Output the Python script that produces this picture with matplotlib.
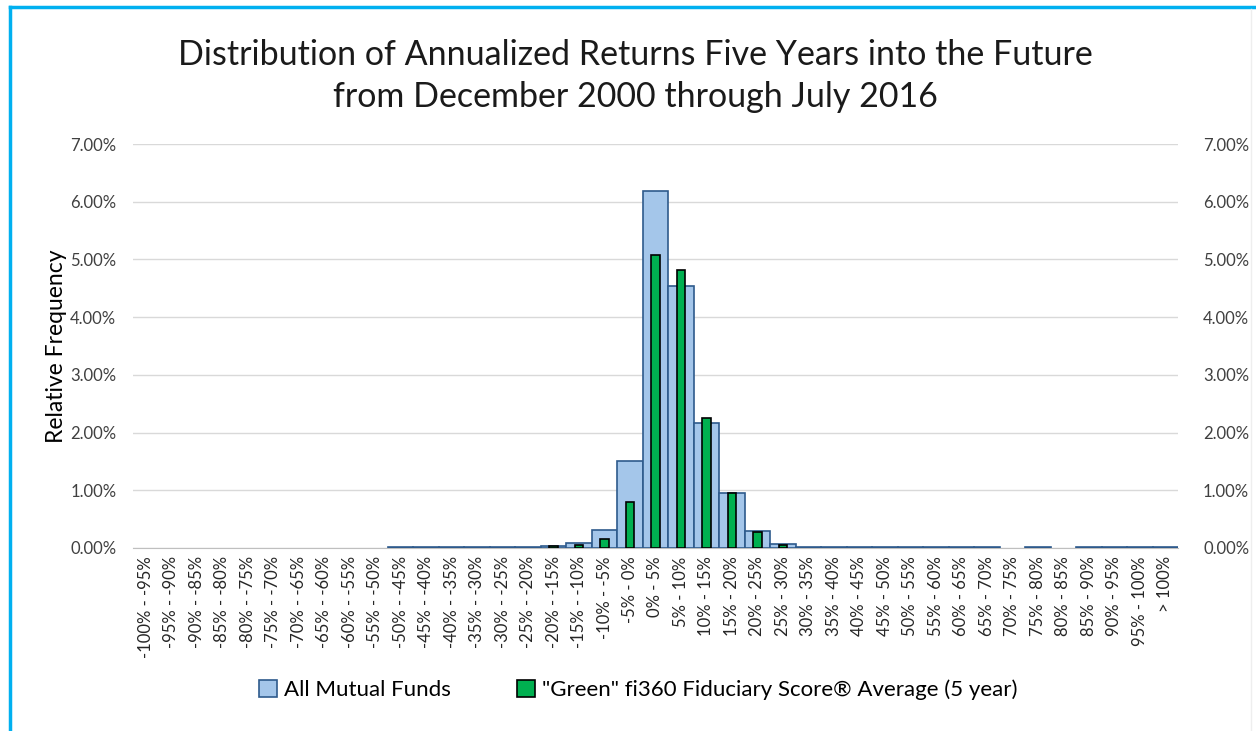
import matplotlib
matplotlib.use("Agg")
import matplotlib.pyplot as plt
from matplotlib.lines import Line2D
from matplotlib.patches import Patch
from matplotlib.ticker import FuncFormatter
import numpy as np

plt.rcParams['font.family'] = ['Lato', 'DejaVu Sans']

categories = ["-100% - -95%", "-95% - -90%", "-90% - -85%", "-85% - -80%", "-80% - -75%",
              "-75% - -70%", "-70% - -65%", "-65% - -60%", "-60% - -55%", "-55% - -50%",
              "-50% - -45%", "-45% - -40%", "-40% - -35%", "-35% - -30%", "-30% - -25%",
              "-25% - -20%", "-20% - -15%", "-15% - -10%", "-10% - -5%", "-5% - 0%",
              "0% - 5%", "5% - 10%", "10% - 15%", "15% - 20%", "20% - 25%",
              "25% - 30%", "30% - 35%", "35% - 40%", "40% - 45%", "45% - 50%",
              "50% - 55%", "55% - 60%", "60% - 65%", "65% - 70%", "70% - 75%",
              "75% - 80%", "80% - 85%", "85% - 90%", "90% - 95%", "95% - 100%", "> 100%"]

all_funds = [0, 0, 0, 0, 0, 0, 0, 0, 0, 0,
             0.01, 0.01, 0.01, 0.01, 0.01, 0.02, 0.04, 0.09, 0.31, 1.51,
             6.19, 4.54, 2.17, 0.96, 0.30, 0.07, 0.02, 0.01, 0.01, 0.01,
             0.01, 0.01, 0.01, 0.01, 0, 0.01, 0, 0.01, 0.01, 0.01, 0.01]

green_funds = [0, 0, 0, 0, 0, 0, 0, 0, 0, 0,
               0, 0, 0, 0, 0, 0, 0.03, 0.06, 0.15, 0.80,
               5.08, 4.82, 2.26, 0.96, 0.27, 0.05, 0, 0, 0, 0,
               0, 0, 0, 0, 0, 0, 0, 0, 0, 0, 0]

yticks = [0, 1, 2, 3, 4, 5, 6, 7]

W, H = 1256, 731
fig = plt.figure(figsize=(W / 100, H / 100), dpi=100)
ax = fig.add_axes([133 / W, 1 - 548 / H, (1178 - 133) / W, (548 - 144) / H])

x = np.arange(len(categories))
blue_vals = np.array(all_funds, dtype=float)
green_vals = np.array(green_funds, dtype=float)
blue_vals[blue_vals == 0] = np.nan
green_vals[green_vals == 0] = np.nan

blue_fill = "#A4C6EA"
blue_edge = "#2E5A8C"
green_fill = "#00B050"
ax.bar(x, blue_vals, width=1.0, color=blue_fill, edgecolor=blue_edge, linewidth=1.2, zorder=2)
ax.bar(x, green_vals, width=0.33, color=green_fill, edgecolor="black", linewidth=1.2, zorder=3)

ax.set_xlim(-0.5, len(categories) - 0.5)
ax.set_ylim(0, 7)
ax.set_yticks(yticks)
fmt = FuncFormatter(lambda v, p: f"{v:.2f}%")
ax.yaxis.set_major_formatter(fmt)
ax.grid(axis='y', color="#D9D9D9", linewidth=1, zorder=0)
ax.set_axisbelow(True)
for s in ["top", "right", "left"]:
    ax.spines[s].set_visible(False)
ax.spines["bottom"].set_color("#BFBFBF")
ax.spines["bottom"].set_zorder(1)
ax.set_xticks(x)
ax.set_xticklabels(categories, rotation=90, fontsize=12, color="#262626")
ax.tick_params(axis='both', length=0)
ax.tick_params(axis='y', labelsize=12, labelcolor="#404040", pad=12)
ax.tick_params(axis='x', pad=6)

ax2 = ax.twinx()
ax2.set_ylim(0, 7)
ax2.set_yticks(yticks)
ax2.yaxis.set_major_formatter(fmt)
ax2.tick_params(axis='y', length=0, labelsize=12, labelcolor="#404040", pad=18)
for s in ["top", "right", "left", "bottom"]:
    ax2.spines[s].set_visible(False)

fig.text(0.045, 1 - 346 / H, "Relative Frequency", rotation=90, ha="center", va="center",
         fontsize=16.5, color="#000000")

fig.text(0.506, 1 - 55 / H, "Distribution of Annualized Returns Five Years into the Future",
         ha="center", va="center", fontsize=24.5, color="#1a1a1a")
fig.text(0.506, 1 - 97 / H, "from December 2000 through July 2016",
         ha="center", va="center", fontsize=24.5, color="#1a1a1a")

handles = [Patch(facecolor=blue_fill, edgecolor=blue_edge, linewidth=1.2),
           Patch(facecolor=green_fill, edgecolor="black", linewidth=1.2)]
labels = ["All Mutual Funds", "\"Green\" fi360 Fiduciary Score\u00ae Average (5 year)"]
fig.legend(handles, labels, loc="center", bbox_to_anchor=(0.508, 1 - 690 / H), ncol=2,
           frameon=False, fontsize=16, handlelength=0.8, handleheight=0.8,
           handletextpad=0.3, columnspacing=3.0)

cyan = "#00B0F0"
fig.add_artist(Line2D([10 / W, 10 / W], [0, 1 - 7 / H], color=cyan, linewidth=2.5,
                      transform=fig.transFigure))
fig.add_artist(Line2D([10 / W, 1], [1 - 7 / H, 1 - 7 / H], color=cyan, linewidth=2.5,
                      transform=fig.transFigure))
fig.add_artist(Line2D([1251 / W, 1251 / W], [0, 1 - 9 / H], color="#EEEEEE", linewidth=1,
                      transform=fig.transFigure))

fig.savefig("out.png", dpi=100)
